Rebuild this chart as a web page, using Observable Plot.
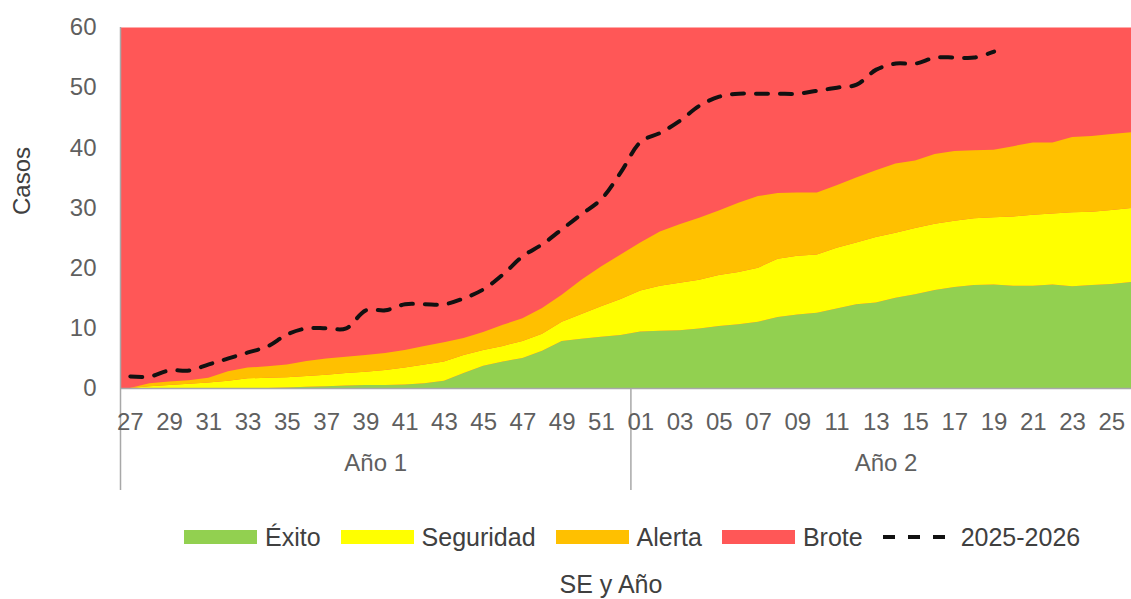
<!DOCTYPE html>
<html>
<head>
<meta charset="utf-8">
<script src="https://cdn.jsdelivr.net/npm/d3@7"></script>
<script src="https://cdn.jsdelivr.net/npm/@observablehq/plot@0.6"></script>
<style>
  html, body { margin: 0; padding: 0; background: #fff; }
  #wrap { position: relative; width: 1131px; height: 599px; overflow: hidden; font-family: "Liberation Sans", Arial, sans-serif; }
  #legend { position: absolute; left: 184px; top: 523px; height: 28px; display: flex; align-items: center; font-size: 25px; color: #404040; white-space: nowrap; }
  #legend .sw { display: inline-block; width: 73px; height: 14px; margin-right: 8px; }
  #legend .lab { margin-right: 20px; }
  #legend svg { margin-right: 16px; }
  #caption { position: absolute; left: 0; width: 1222px; top: 570px; text-align: center; font-size: 25px; color: #404040; }
</style>
</head>
<body>
<div id="wrap">
  <div id="chart"></div>
  <div id="legend"></div>
  <div id="caption">SE y Año</div>
</div>
<script>
// ---- Data ----
const semanasAnio1 = ["27","28","29","30","31","32","33","34","35","36","37","38","39","40","41","42","43","44","45","46","47","48","49","50","51","52"];
const semanasAnio2 = ["01","02","03","04","05","06","07","08","09","10","11","12","13","14","15","16","17","18","19","20","21","22","23","24","25","26"];
const anios = ["Año 1", "Año 2"];
const series = ["Éxito", "Seguridad", "Alerta", "Brote"];
const colores = ["#92D050", "#FFFF00", "#FFC000", "#FF5757"];
const lineaNombre = "2025-2026";

const exito = [0,0,0,0,0,0,0,0,0.1,0.2,0.3,0.4,0.5,0.5,0.6,0.8,1.2,2.5,3.7,4.4,5.0,6.2,7.8,8.2,8.5,8.8,
               9.4,9.5,9.6,9.9,10.3,10.6,11.0,11.8,12.2,12.5,13.2,13.9,14.2,15.0,15.6,16.3,16.8,17.1,17.2,17.0,17.0,17.2,16.9,17.1,17.3,17.6];
const seguridad = [0,0.3,0.5,0.7,0.9,1.2,1.6,1.7,1.7,1.8,1.9,2.1,2.2,2.5,2.8,3.1,3.2,3.0,2.6,2.6,2.8,2.8,3.2,4.1,5.1,6.0,
                   6.8,7.5,7.9,8.1,8.5,8.7,9.0,9.7,9.8,9.7,10.1,10.3,10.9,10.8,11.0,11.0,11.0,11.1,11.2,11.5,11.8,11.8,12.3,12.2,12.3,12.3];
const alerta = [0,0.5,0.6,0.6,0.8,1.6,1.8,1.9,2.1,2.5,2.7,2.7,2.8,2.8,2.9,3.1,3.2,2.8,3.0,3.5,3.8,4.3,4.5,5.7,6.6,7.4,
                8.0,9.0,9.7,10.3,10.7,11.5,11.9,10.9,10.5,10.3,10.4,10.8,11.1,11.5,11.2,11.6,11.6,11.3,11.2,11.7,12.0,11.8,12.5,12.6,12.6,12.6];
const casos20252026 = [2,2,3,3,4,5,6,7,9,10,10,10,13,13,14,14,14,15,16.5,19,22,24,26.5,29,31.5,36,
                       41,42.5,44.5,47,48.5,49,49,49,49,49.5,50,50.5,53,54,54,55,55,55,56];
const yTicks = [0, 10, 20, 30, 40, 50, 60];

// ---- Derived tables ----
const semanas = [...semanasAnio1, ...semanasAnio2];
const gruposAnio = [semanasAnio1, semanasAnio2];
const valores = [exito, seguridad, alerta];
const rows = semanas.flatMap((s, i) => valores.map((arr, k) => ({i, serie: series[k], v: arr[i]})));
const lineRows = casos20252026.map((v, i) => ({i, v}));
let start = 0;
const anioInfo = gruposAnio.map((g, k) => {
  const o = {label: anios[k], first: start - 0.5, mid: start + (g.length - 1) / 2};
  start += g.length;
  return o;
});
const evenTicks = semanas.map((s, i) => i).filter(i => i % 2 === 0);
const tickFill = "#5f5f5f";
const ruleColor = "#a8a8a8";

const chart = Plot.plot({
  width: 1131,
  height: 500,
  marginLeft: 120,
  marginRight: 0,
  marginTop: 27,
  marginBottom: 112,
  style: {fontFamily: "Liberation Sans, Arial, sans-serif", background: "#fff"},
  x: {domain: [-0.5, semanas.length - 1], axis: null},
  y: {domain: [0, 60], axis: null},
  color: {domain: series, range: colores},
  marks: [
    Plot.frame({fill: colores[3], stroke: null}),
    Plot.areaY(rows, Plot.stackY({x: "i", y: "v", fill: "serie"})),
    Plot.lineY(lineRows, {x: "i", y: "v", stroke: "#111", strokeWidth: 4, strokeDasharray: "12,12", curve: "catmull-rom"}),
    Plot.ruleY([0], {stroke: ruleColor, strokeWidth: 1.5}),
    Plot.ruleX(anioInfo.slice(0, 1), {x: "first", stroke: ruleColor, strokeWidth: 1.5, insetBottom: -102}),
    Plot.ruleX(anioInfo.slice(1), {x: "first", stroke: ruleColor, strokeWidth: 1.5, insetTop: 361, insetBottom: -102}),
    Plot.axisY({ticks: yTicks, tickSize: 0, tickPadding: 24, fontSize: 24, fill: tickFill, label: null}),
    Plot.axisX({ticks: evenTicks, tickFormat: i => semanas[i], tickSize: 0, tickPadding: 24, fontSize: 24, fill: tickFill, label: null}),
    Plot.text(anioInfo, {x: "mid", text: "label", frameAnchor: "bottom", dy: 82, fontSize: 24, fill: tickFill}),
    Plot.text(["Casos"], {text: d => d, frameAnchor: "left", dx: -98, dy: 7, rotate: -90, fontSize: 24, fill: "#404040"})
  ]
});
document.getElementById("chart").appendChild(chart);

// ---- Legend ----
const legend = document.getElementById("legend");
series.forEach((s, k) => {
  const sw = document.createElement("span");
  sw.className = "sw";
  sw.style.background = colores[k];
  const lab = document.createElement("span");
  lab.className = "lab";
  lab.textContent = s;
  legend.appendChild(sw);
  legend.appendChild(lab);
});
const ns = "http://www.w3.org/2000/svg";
const dsvg = document.createElementNS(ns, "svg");
dsvg.setAttribute("width", 62);
dsvg.setAttribute("height", 14);
const dl = document.createElementNS(ns, "line");
dl.setAttribute("x1", 0); dl.setAttribute("x2", 62);
dl.setAttribute("y1", 7); dl.setAttribute("y2", 7);
dl.setAttribute("stroke", "#111");
dl.setAttribute("stroke-width", 4);
dl.setAttribute("stroke-dasharray", "12,13");
dsvg.appendChild(dl);
legend.appendChild(dsvg);
const ll = document.createElement("span");
ll.textContent = lineaNombre;
legend.appendChild(ll);
</script>
</body>
</html>
